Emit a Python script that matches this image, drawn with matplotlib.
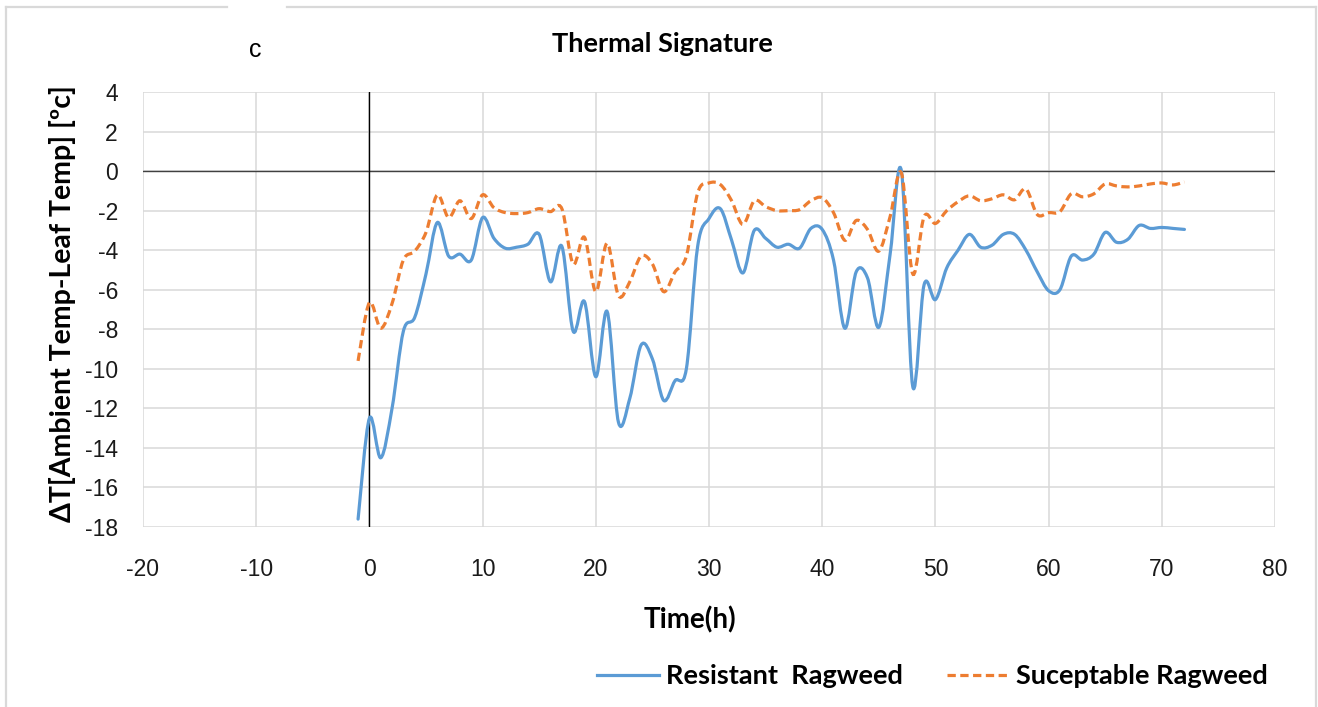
import numpy as np
import matplotlib
matplotlib.use("Agg")
import matplotlib.pyplot as plt
from matplotlib.path import Path
from matplotlib.patches import PathPatch
from matplotlib.lines import Line2D

# ---------------- data ----------------
hours = list(range(-1, 73))
resistant = [-17.6, -12.5, -14.5, -12.0, -8.1, -7.4, -5.2, -2.6, -4.3, -4.2, -4.5,
             -2.35, -3.4, -3.9, -3.85, -3.7, -3.2, -5.6, -3.8, -8.1, -6.6, -10.4,
             -7.1, -12.7, -11.5, -8.8, -9.5, -11.6, -10.6, -10.0, -3.8, -2.4, -1.9,
             -3.5, -5.15, -3.0, -3.4, -3.85, -3.7, -3.9, -2.9, -2.95, -4.5, -7.95,
             -5.1, -5.4, -7.9, -4.2, 0.0, -10.9, -5.75, -6.5, -4.9, -4.0, -3.2,
             -3.85, -3.75, -3.2, -3.2, -4.0, -5.1, -6.05, -6.0, -4.3, -4.5, -4.2,
             -3.1, -3.6, -3.45, -2.75, -2.9, -2.85, -2.9, -2.95]
susceptible = [-9.6, -6.65, -7.95, -6.7, -4.5, -4.05, -3.1, -1.2, -2.35, -1.5, -2.4,
               -1.2, -1.85, -2.1, -2.15, -2.1, -1.9, -2.05, -1.9, -4.7, -3.35, -6.1,
               -3.65, -6.3, -5.6, -4.3, -4.7, -6.1, -5.1, -4.3, -1.1, -0.6, -0.68,
               -1.5, -2.7, -1.5, -1.8, -2.0, -2.0, -1.95, -1.5, -1.35, -2.1, -3.5,
               -2.5, -2.95, -4.05, -2.3, -0.1, -5.2, -2.3, -2.65, -2.0, -1.55, -1.25,
               -1.5, -1.4, -1.2, -1.45, -0.9, -2.2, -2.1, -2.05, -1.15, -1.3, -1.15,
               -0.65, -0.75, -0.8, -0.75, -0.65, -0.6, -0.7, -0.55]
x_ticks = list(range(-20, 81, 10))
y_ticks = list(range(-18, 5, 2))
series_names = ["Resistant  Ragweed", "Suceptable Ragweed"]
title_text = "Thermal Signature"
x_label = "Time(h)"
y_label = "ΔT[Ambient Temp-Leaf Temp] [ºc]"
panel_letter = "c"

BLUE = "#5B9BD5"
ORANGE = "#ED7D31"
W, H = 1318, 707

plt.rcParams["axes.unicode_minus"] = False
BOLD = ["Lato", "DejaVu Sans"]
REG = ["Liberation Sans", "DejaVu Sans"]


def smooth_path(xs, ys):
    """Excel-like smoothed line: cubic Bezier segments through the data points."""
    xs = np.asarray(xs, float)
    ys = np.asarray(ys, float)
    n = len(xs)
    verts = [(xs[0], ys[0])]
    codes = [Path.MOVETO]
    for i in range(n - 1):
        p0 = np.array([xs[max(i - 1, 0)], ys[max(i - 1, 0)]])
        p1 = np.array([xs[i], ys[i]])
        p2 = np.array([xs[i + 1], ys[i + 1]])
        p3 = np.array([xs[min(i + 2, n - 1)], ys[min(i + 2, n - 1)]])
        c1 = p1 + (p2 - p0) / 6.0
        c2 = p2 - (p3 - p1) / 6.0
        verts += [tuple(c1), tuple(c2), tuple(p2)]
        codes += [Path.CURVE4] * 3
    return Path(verts, codes)


fig = plt.figure(figsize=(W / 100, H / 100), dpi=100)
fig.patch.set_facecolor("white")

L, R, T, B = 143, 1275, 92, 527
ax = fig.add_axes([L / W, 1 - B / H, (R - L) / W, (B - T) / H])
ax.set_xlim(-20, 80)
ax.set_ylim(-18, 4)
ax.set_xticks(x_ticks)
ax.set_yticks(y_ticks)
ax.grid(True, color="#d9d9d9", linewidth=1.1)
ax.set_axisbelow(True)
for s in ax.spines.values():
    s.set_visible(False)
ax.tick_params(length=0, labelsize=16.5, colors="#1a1a1a")
ax.tick_params(axis="x", pad=22)
ax.tick_params(axis="y", pad=18)
for lab in ax.get_xticklabels() + ax.get_yticklabels():
    lab.set_family(REG)

ax.axhline(0, color="#404040", linewidth=1.0, zorder=1.5)
ax.axvline(0, color="black", linewidth=1.0, zorder=1.5)

lw = 2.3
dash = (0, (2.6, 1.4))
p1 = PathPatch(smooth_path(hours, resistant), facecolor="none", edgecolor=BLUE,
               linewidth=lw, zorder=3, capstyle="round", joinstyle="round")
p2 = PathPatch(smooth_path(hours, susceptible), facecolor="none", edgecolor=ORANGE,
               linewidth=lw, linestyle=dash, zorder=3)
ax.add_patch(p1)
ax.add_patch(p2)

# text
fig.text(662 / W, 1 - 44 / H, title_text, ha="center", va="center",
         fontsize=19.5, fontweight="bold", family=BOLD)
fig.text(690 / W, 1 - 620 / H, x_label, ha="center", va="center",
         fontsize=20, fontweight="bold", family=BOLD)
fig.text(62 / W, 1 - 304 / H, y_label, ha="center", va="center", rotation=90,
         fontsize=20.5, fontweight="bold", family=BOLD)
fig.text(255 / W, 1 - 50 / H, panel_letter, ha="center", va="center",
         fontsize=18, family=REG)

# legend
handles = [Line2D([], [], color=BLUE, linewidth=lw),
           Line2D([], [], color=ORANGE, linewidth=lw, linestyle=dash)]
leg = fig.legend(handles, series_names, loc="center",
                 bbox_to_anchor=(932.5 / W, 1 - 676 / H), ncol=2, frameon=False,
                 prop={"family": BOLD, "weight": "bold", "size": 19.5},
                 handlelength=2.3, handletextpad=0.25, columnspacing=1.65,
                 borderaxespad=0, borderpad=0)

# outer frame with gap at top
fc = "#d9d9d9"
fig.add_artist(Line2D([6 / W, 6 / W], [0, 1 - 7 / H], color=fc, lw=1.6,
                      transform=fig.transFigure))
fig.add_artist(Line2D([1316 / W, 1316 / W], [0, 1 - 7 / H], color=fc, lw=1.6,
                      transform=fig.transFigure))
fig.add_artist(Line2D([6 / W, 227 / W], [1 - 7 / H, 1 - 7 / H], color=fc, lw=1.6,
                      transform=fig.transFigure))
fig.add_artist(Line2D([287 / W, 1316 / W], [1 - 7 / H, 1 - 7 / H], color=fc, lw=1.6,
                      transform=fig.transFigure))

fig.savefig("out.png", dpi=100, facecolor="white")
